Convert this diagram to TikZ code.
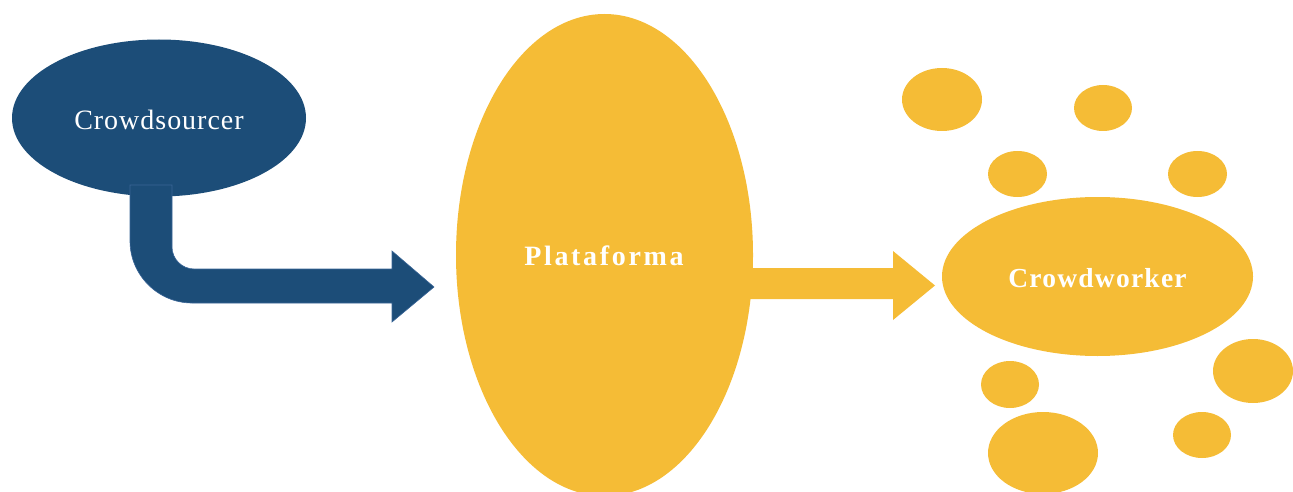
\documentclass[tikz,border=0pt]{standalone}
\usepackage{fontspec}
\setmainfont{Liberation Serif}
\newfontfamily\lblfont[LetterSpace=3.5]{Liberation Serif}
\newfontfamily\cwfont[LetterSpace=4.5]{Liberation Serif}
\newfontfamily\widefont[LetterSpace=9.5]{Liberation Serif}
\usetikzlibrary{shapes.geometric}
\definecolor{deepblue}{HTML}{1C4D78}
\definecolor{edgeblue}{HTML}{3A6597}
\definecolor{amber}{HTML}{F5BC36}
\tikzset{
  blob/.style={ellipse, fill=amber, draw=none, inner sep=0pt},
  source/.style={ellipse, fill=deepblue, draw=none, inner sep=0pt},
  srctext/.style={text=white, font=\lblfont\fontsize{28}{30}\selectfont},
  hubtext/.style={text=white, font=\widefont\bfseries\fontsize{28}{30}\selectfont},
  cwtext/.style={text=white, font=\cwfont\bfseries\fontsize{27.5}{30}\selectfont},
  bluearrow/.style={fill=deepblue, draw=edgeblue, line width=0.6pt},
  amberarrow/.style={fill=amber, draw=none}
}
\begin{document}
\begin{tikzpicture}[x=1pt, y=-1pt]
  \useasboundingbox (0,0) rectangle (1293,492);

  % main actors
  \node[source, minimum width=294pt, minimum height=157pt] (src) at (159,118) {};
  \node[srctext] (srclbl) at (159,120) {Crowdsourcer};
  \node[blob, minimum width=297pt, minimum height=482pt] (plat) at (604.5,255) {};
  \node[hubtext] (platlbl) at (604,256) {Plataforma};

  % bent arrow from the crowdsourcer towards the platform
  \coordinate (bluetip) at (434,287);
  \draw[bluearrow] (130,185) -- (130,241)
      .. controls (130,275) and (158,303) .. (192,303)
      -- (392,303) -- (392,322) -- (bluetip) -- (392,251) -- (392,269)
      -- (194,269) .. controls (182,269) and (172,259) .. (172,247)
      -- (172,185) -- cycle;

  % straight arrow from the platform to the crowd
  \coordinate (ambertip) at (935,285.5);
  \fill[amberarrow] (745,268) -- (893,268) -- (893,251) -- (ambertip)
      -- (893,320) -- (893,299) -- (745,299) -- cycle;

  % the crowd
  \node[blob, minimum width=311pt, minimum height=159pt] (cw) at (1097.5,276.5) {};
  \node[cwtext] (cwlbl) at (1097.5,278) {Crowdworker};

  \node[blob, minimum width=80pt, minimum height=63pt] (w1) at (942,99.5) {};
  \node[blob, minimum width=58pt, minimum height=46pt] (w2) at (1103,108) {};
  \node[blob, minimum width=59pt, minimum height=46pt] (w3) at (1017.5,174) {};
  \node[blob, minimum width=59pt, minimum height=46pt] (w4) at (1197.5,174) {};
  \node[blob, minimum width=58pt, minimum height=47pt] (w5) at (1010,384.5) {};
  \node[blob, minimum width=80pt, minimum height=64pt] (w6) at (1253,371) {};
  \node[blob, minimum width=110pt, minimum height=82pt] (w7) at (1043,453) {};
  \node[blob, minimum width=58pt, minimum height=46pt] (w8) at (1202,435) {};
\end{tikzpicture}
\end{document}
